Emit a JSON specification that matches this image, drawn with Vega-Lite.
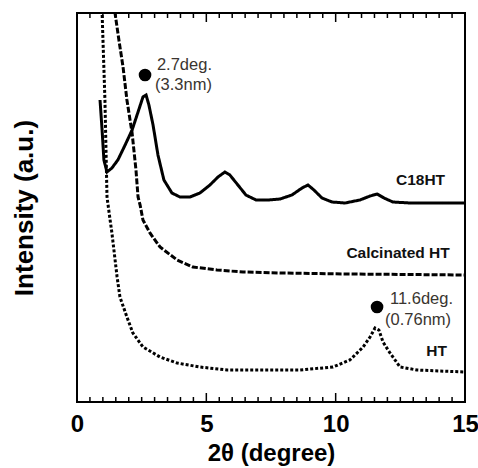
{
  "$schema": "https://vega.github.io/schema/vega-lite/v6.json",
  "autosize": {"type": "none"},
  "padding": {"left": 77, "top": 13, "right": 13, "bottom": 66},
  "width": 388,
  "height": 389,
  "background": "white",
  "datasets": {
    "curves": [
      {"series": "C18HT", "theta": 0.89, "intensity": 302},
      {"series": "C18HT", "theta": 0.97, "intensity": 272},
      {"series": "C18HT", "theta": 1.04, "intensity": 242},
      {"series": "C18HT", "theta": 1.16, "intensity": 230},
      {"series": "C18HT", "theta": 1.35, "intensity": 234},
      {"series": "C18HT", "theta": 1.58, "intensity": 242},
      {"series": "C18HT", "theta": 1.86, "intensity": 257},
      {"series": "C18HT", "theta": 2.13, "intensity": 272},
      {"series": "C18HT", "theta": 2.36, "intensity": 290},
      {"series": "C18HT", "theta": 2.55, "intensity": 305},
      {"series": "C18HT", "theta": 2.67, "intensity": 307},
      {"series": "C18HT", "theta": 2.78, "intensity": 297},
      {"series": "C18HT", "theta": 2.94, "intensity": 277},
      {"series": "C18HT", "theta": 3.13, "intensity": 247},
      {"series": "C18HT", "theta": 3.36, "intensity": 222},
      {"series": "C18HT", "theta": 3.67, "intensity": 209},
      {"series": "C18HT", "theta": 3.98, "intensity": 205},
      {"series": "C18HT", "theta": 4.37, "intensity": 205},
      {"series": "C18HT", "theta": 4.75, "intensity": 209},
      {"series": "C18HT", "theta": 5.14, "intensity": 217},
      {"series": "C18HT", "theta": 5.45, "intensity": 225},
      {"series": "C18HT", "theta": 5.72, "intensity": 230},
      {"series": "C18HT", "theta": 5.91, "intensity": 227},
      {"series": "C18HT", "theta": 6.22, "intensity": 217},
      {"series": "C18HT", "theta": 6.53, "intensity": 207},
      {"series": "C18HT", "theta": 6.92, "intensity": 202},
      {"series": "C18HT", "theta": 7.38, "intensity": 202},
      {"series": "C18HT", "theta": 7.85, "intensity": 203},
      {"series": "C18HT", "theta": 8.31, "intensity": 207},
      {"series": "C18HT", "theta": 8.70, "intensity": 214},
      {"series": "C18HT", "theta": 8.93, "intensity": 217},
      {"series": "C18HT", "theta": 9.16, "intensity": 212},
      {"series": "C18HT", "theta": 9.47, "intensity": 204},
      {"series": "C18HT", "theta": 9.86, "intensity": 200},
      {"series": "C18HT", "theta": 10.36, "intensity": 199},
      {"series": "C18HT", "theta": 10.94, "intensity": 202},
      {"series": "C18HT", "theta": 11.33, "intensity": 206},
      {"series": "C18HT", "theta": 11.6, "intensity": 208},
      {"series": "C18HT", "theta": 11.87, "intensity": 204},
      {"series": "C18HT", "theta": 12.21, "intensity": 200},
      {"series": "C18HT", "theta": 12.87, "intensity": 199},
      {"series": "C18HT", "theta": 13.65, "intensity": 199},
      {"series": "C18HT", "theta": 14.42, "intensity": 199},
      {"series": "C18HT", "theta": 15.0, "intensity": 199},
      {"series": "Calcinated HT", "theta": 1.31, "intensity": 422},
      {"series": "Calcinated HT", "theta": 1.47, "intensity": 389},
      {"series": "Calcinated HT", "theta": 1.62, "intensity": 362},
      {"series": "Calcinated HT", "theta": 1.78, "intensity": 335},
      {"series": "Calcinated HT", "theta": 1.93, "intensity": 302},
      {"series": "Calcinated HT", "theta": 2.13, "intensity": 269},
      {"series": "Calcinated HT", "theta": 2.28, "intensity": 232},
      {"series": "Calcinated HT", "theta": 2.36, "intensity": 205},
      {"series": "Calcinated HT", "theta": 2.44, "intensity": 197},
      {"series": "Calcinated HT", "theta": 2.55, "intensity": 182},
      {"series": "Calcinated HT", "theta": 2.82, "intensity": 169},
      {"series": "Calcinated HT", "theta": 3.21, "intensity": 155},
      {"series": "Calcinated HT", "theta": 3.87, "intensity": 142},
      {"series": "Calcinated HT", "theta": 4.48, "intensity": 135},
      {"series": "Calcinated HT", "theta": 5.41, "intensity": 132},
      {"series": "Calcinated HT", "theta": 6.42, "intensity": 130},
      {"series": "Calcinated HT", "theta": 7.85, "intensity": 129},
      {"series": "Calcinated HT", "theta": 10.55, "intensity": 128},
      {"series": "Calcinated HT", "theta": 15.0, "intensity": 127},
      {"series": "HT", "theta": 0.89, "intensity": 422},
      {"series": "HT", "theta": 0.97, "intensity": 389},
      {"series": "HT", "theta": 1.08, "intensity": 302},
      {"series": "HT", "theta": 1.16, "intensity": 205},
      {"series": "HT", "theta": 1.28, "intensity": 182},
      {"series": "HT", "theta": 1.35, "intensity": 169},
      {"series": "HT", "theta": 1.55, "intensity": 125},
      {"series": "HT", "theta": 1.66, "intensity": 105},
      {"series": "HT", "theta": 1.93, "intensity": 85},
      {"series": "HT", "theta": 2.16, "intensity": 69},
      {"series": "HT", "theta": 2.55, "intensity": 55},
      {"series": "HT", "theta": 3.21, "intensity": 45},
      {"series": "HT", "theta": 3.87, "intensity": 39},
      {"series": "HT", "theta": 4.75, "intensity": 35},
      {"series": "HT", "theta": 5.80, "intensity": 32},
      {"series": "HT", "theta": 6.80, "intensity": 32},
      {"series": "HT", "theta": 8.62, "intensity": 32},
      {"series": "HT", "theta": 9.90, "intensity": 35},
      {"series": "HT", "theta": 10.55, "intensity": 42},
      {"series": "HT", "theta": 11.06, "intensity": 55},
      {"series": "HT", "theta": 11.33, "intensity": 65},
      {"series": "HT", "theta": 11.52, "intensity": 74},
      {"series": "HT", "theta": 11.67, "intensity": 72},
      {"series": "HT", "theta": 11.83, "intensity": 60},
      {"series": "HT", "theta": 12.10, "intensity": 49},
      {"series": "HT", "theta": 12.49, "intensity": 35},
      {"series": "HT", "theta": 13.14, "intensity": 32},
      {"series": "HT", "theta": 14.03, "intensity": 31},
      {"series": "HT", "theta": 15.0, "intensity": 30}
    ],
    "labels": [
      {"text": "C18HT", "theta": 14.23, "intensity": 222},
      {"text": "Calcinated HT", "theta": 14.41, "intensity": 149},
      {"text": "HT", "theta": 14.30, "intensity": 51}
    ],
    "peaks": [
      {"theta": 2.63, "intensity": 327},
      {"theta": 11.6, "intensity": 95}
    ],
    "notes": [
      {"text": "2.7deg.", "theta": 3.09, "intensity": 337},
      {"text": "(3.3nm)", "theta": 3.02, "intensity": 317},
      {"text": "11.6deg.", "theta": 12.10, "intensity": 103},
      {"text": "(0.76nm)", "theta": 11.91, "intensity": 82}
    ],
    "minorTicks": [
      {"theta": 0.5}, {"theta": 1}, {"theta": 1.5}, {"theta": 2}, {"theta": 2.5}, {"theta": 3}, {"theta": 3.5}, {"theta": 4}, {"theta": 4.5},
      {"theta": 5.5}, {"theta": 6}, {"theta": 6.5}, {"theta": 7}, {"theta": 7.5}, {"theta": 8}, {"theta": 8.5}, {"theta": 9}, {"theta": 9.5},
      {"theta": 10.5}, {"theta": 11}, {"theta": 11.5}, {"theta": 12}, {"theta": 12.5}, {"theta": 13}, {"theta": 13.5}, {"theta": 14}, {"theta": 14.5}
    ],
    "majorTicks": [
      {"theta": 5}, {"theta": 10}
    ]
  },
  "resolve": {"axis": {"x": "independent", "y": "independent"}},
  "layer": [
    {
      "data": {"name": "curves"},
      "mark": {"type": "line", "clip": true, "strokeWidth": 3, "color": "black"},
      "encoding": {
        "x": {
          "field": "theta", "type": "quantitative",
          "scale": {"domain": [0, 15], "nice": false},
          "axis": {
            "orient": "bottom",
            "values": [0, 5, 10, 15],
            "format": "d",
            "domain": false,
            "ticks": false,
            "offset": -9,
            "labelPadding": 19,
            "labelFontSize": 24,
            "labelFontWeight": "bold",
            "labelColor": "black",
            "labelOverlap": false,
            "labelFlush": false,
            "labelBound": false,
            "title": "2θ (degree)",
            "titleFontSize": 24,
            "titleFontWeight": "bold",
            "titleColor": "black",
            "titlePadding": 5
          }
        },
        "y": {
          "field": "intensity", "type": "quantitative",
          "scale": {"domain": [0, 389], "nice": false},
          "axis": {
            "orient": "left",
            "domain": false,
            "ticks": false,
            "labels": false,
            "title": "Intensity (a.u.)",
            "titleFontSize": 26,
            "titleFontWeight": "bold",
            "titleColor": "black",
            "titlePadding": 40
          }
        },
        "detail": {"field": "series"},
        "strokeDash": {
          "field": "series", "type": "nominal",
          "scale": {"domain": ["C18HT", "Calcinated HT", "HT"], "range": [[1, 0], [6, 2], [3, 2]]},
          "legend": null
        }
      }
    },
    {
      "data": {"name": "minorTicks"},
      "mark": {"type": "rule", "color": "black", "strokeWidth": 1.5},
      "encoding": {
        "x": {"field": "theta", "type": "quantitative", "scale": {"domain": [0, 15], "nice": false}, "axis": null},
        "y": {"datum": 0, "type": "quantitative", "scale": {"domain": [0, 389], "nice": false}, "axis": null},
        "y2": {"datum": 5}
      }
    },
    {
      "data": {"name": "minorTicks"},
      "mark": {"type": "rule", "color": "black", "strokeWidth": 1.5},
      "encoding": {
        "x": {"field": "theta", "type": "quantitative", "scale": {"domain": [0, 15], "nice": false}, "axis": null},
        "y": {"datum": 384, "type": "quantitative", "scale": {"domain": [0, 389], "nice": false}, "axis": null},
        "y2": {"datum": 389}
      }
    },
    {
      "data": {"name": "majorTicks"},
      "mark": {"type": "rule", "color": "black", "strokeWidth": 1.5},
      "encoding": {
        "x": {"field": "theta", "type": "quantitative", "scale": {"domain": [0, 15], "nice": false}, "axis": null},
        "y": {"datum": 0, "type": "quantitative", "scale": {"domain": [0, 389], "nice": false}, "axis": null},
        "y2": {"datum": 9}
      }
    },
    {
      "data": {"name": "majorTicks"},
      "mark": {"type": "rule", "color": "black", "strokeWidth": 1.5},
      "encoding": {
        "x": {"field": "theta", "type": "quantitative", "scale": {"domain": [0, 15], "nice": false}, "axis": null},
        "y": {"datum": 380, "type": "quantitative", "scale": {"domain": [0, 389], "nice": false}, "axis": null},
        "y2": {"datum": 389}
      }
    },
    {
      "data": {"name": "labels"},
      "mark": {"type": "text", "align": "right", "baseline": "middle", "font": "Liberation Sans", "fontWeight": "bold", "fontSize": 15.5, "color": "#111111"},
      "encoding": {
        "x": {"field": "theta", "type": "quantitative", "scale": {"domain": [0, 15], "nice": false}, "axis": null},
        "y": {"field": "intensity", "type": "quantitative", "scale": {"domain": [0, 389], "nice": false}, "axis": null},
        "text": {"field": "text"}
      }
    },
    {
      "data": {"name": "peaks"},
      "mark": {"type": "point", "filled": true, "opacity": 1, "size": 160, "color": "black"},
      "encoding": {
        "x": {"field": "theta", "type": "quantitative", "scale": {"domain": [0, 15], "nice": false}, "axis": null},
        "y": {"field": "intensity", "type": "quantitative", "scale": {"domain": [0, 389], "nice": false}, "axis": null}
      }
    },
    {
      "data": {"name": "notes"},
      "mark": {"type": "text", "align": "left", "baseline": "middle", "font": "Liberation Sans", "fontSize": 16.5, "color": "#3a3530"},
      "encoding": {
        "x": {"field": "theta", "type": "quantitative", "scale": {"domain": [0, 15], "nice": false}, "axis": null},
        "y": {"field": "intensity", "type": "quantitative", "scale": {"domain": [0, 389], "nice": false}, "axis": null},
        "text": {"field": "text"}
      }
    }
  ],
  "config": {
    "view": {"stroke": "black", "strokeWidth": 2},
    "axis": {
      "grid": false,
      "labelFont": "Liberation Sans",
      "titleFont": "Liberation Sans"
    }
  }
}
